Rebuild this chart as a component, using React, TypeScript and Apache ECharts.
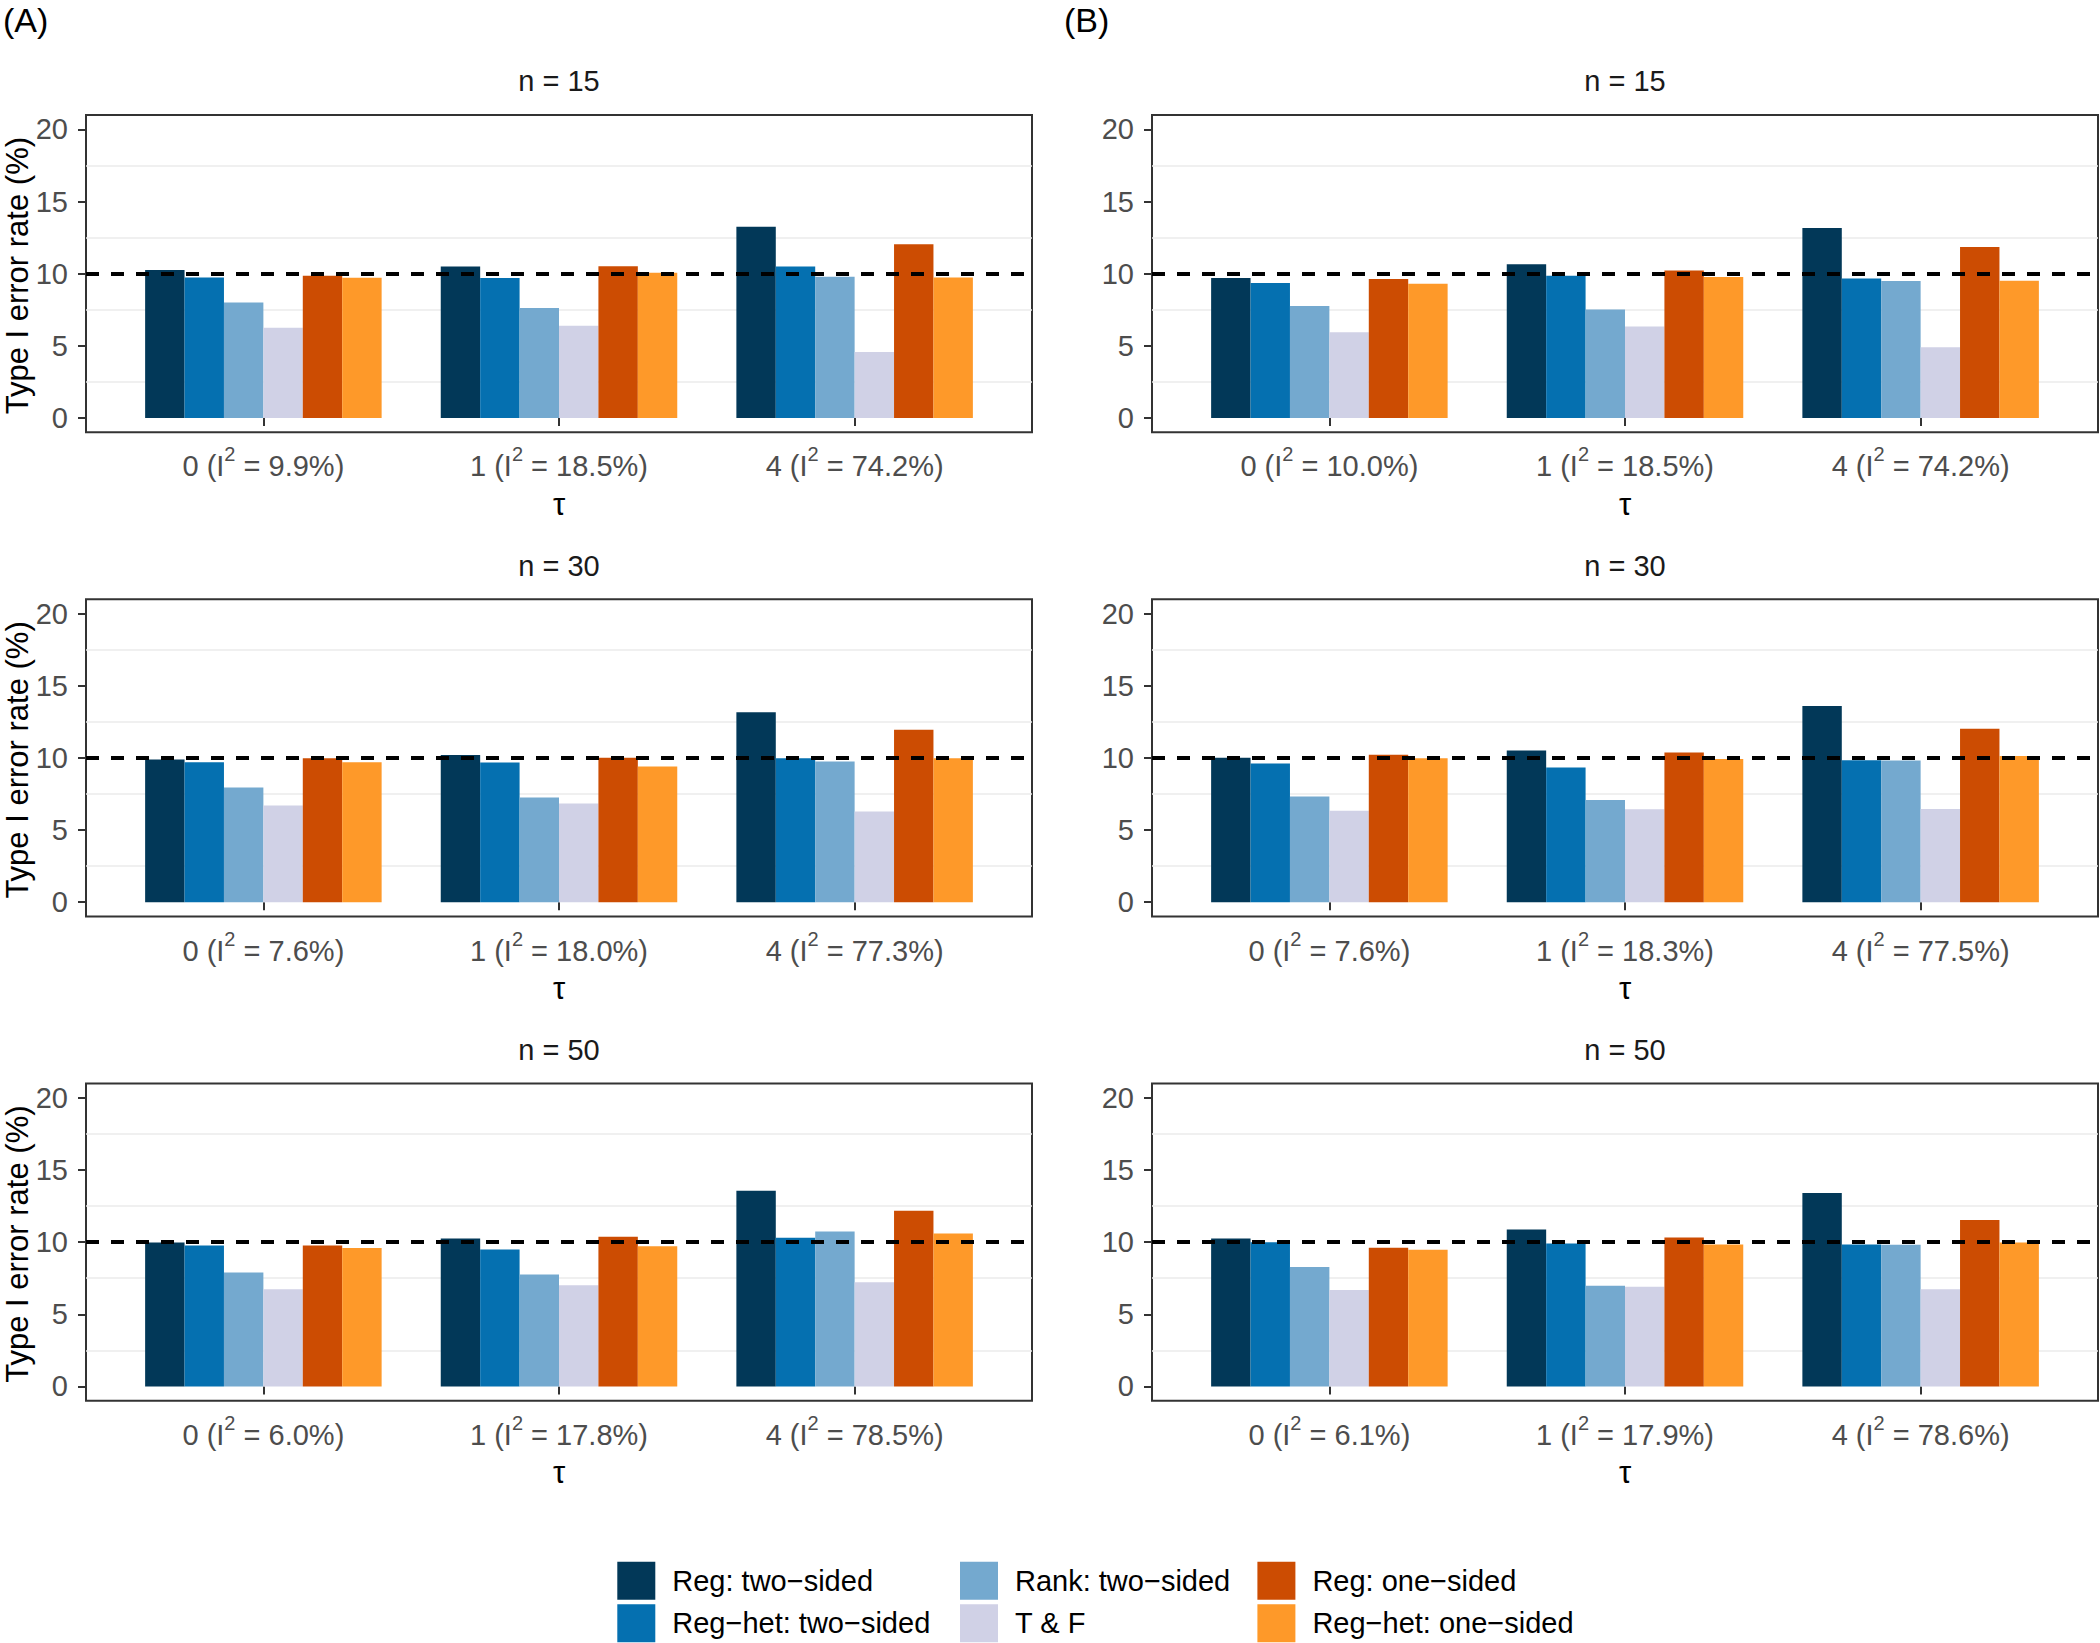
import React, { useEffect, useRef } from 'react';
import * as echarts from 'echarts';

// ---------- data ----------
const methods = [
  'Reg: two\u2212sided',
  'Reg\u2212het: two\u2212sided',
  'Rank: two\u2212sided',
  'T & F',
  'Reg: one\u2212sided',
  'Reg\u2212het: one\u2212sided',
];
const methodColors = ['#023858', '#0570B0', '#74A9CF', '#D0D1E6', '#CC4C02', '#FE9929'];

const sampleSizeTitles = ['n = 15', 'n = 30', 'n = 50'];
const tauValues = ['0', '1', '4'];

const i2A15 = ['9.9%', '18.5%', '74.2%'];
const i2A30 = ['7.6%', '18.0%', '77.3%'];
const i2A50 = ['6.0%', '17.8%', '78.5%'];
const i2B15 = ['10.0%', '18.5%', '74.2%'];
const i2B30 = ['7.6%', '18.3%', '77.5%'];
const i2B50 = ['6.1%', '17.9%', '78.6%'];

// rows: methods (same order as `methods`), columns: tau = 0, 1, 4
const rateA15 = [
  [10.25, 10.49, 13.26],
  [9.73, 9.7, 10.49],
  [8.0, 7.62, 9.79],
  [6.25, 6.39, 4.57],
  [9.86, 10.51, 12.03],
  [9.71, 10.07, 9.74],
];
const rateA30 = [
  [9.89, 10.21, 13.17],
  [9.7, 9.68, 9.98],
  [7.95, 7.26, 9.75],
  [6.71, 6.85, 6.28],
  [9.98, 10.02, 11.95],
  [9.7, 9.4, 9.98],
];
const rateA50 = [
  [9.98, 10.25, 13.56],
  [9.77, 9.49, 10.3],
  [7.89, 7.75, 10.74],
  [6.74, 7.01, 7.22],
  [9.77, 10.37, 12.18],
  [9.59, 9.72, 10.6],
];
const rateB15 = [
  [9.7, 10.65, 13.17],
  [9.35, 9.86, 9.67],
  [7.76, 7.51, 9.49],
  [5.94, 6.34, 4.9],
  [9.63, 10.21, 11.84],
  [9.3, 9.77, 9.51],
];
const rateB30 = [
  [10.02, 10.51, 13.61],
  [9.61, 9.33, 9.84],
  [7.33, 7.08, 9.82],
  [6.34, 6.44, 6.46],
  [10.23, 10.37, 12.02],
  [9.98, 9.93, 10.14],
];
const rateB50 = [
  [10.25, 10.87, 13.4],
  [10.0, 9.91, 9.84],
  [8.28, 6.97, 9.82],
  [6.69, 6.9, 6.74],
  [9.61, 10.32, 11.54],
  [9.47, 9.84, 9.98],
];

const yMin = 0;
const yMax = 20;
const yStep = 5;
const nominalLevel = 10;
const minorGridValues = [2.5, 7.5, 12.5, 17.5];
const panelLetters = ['(A)', '(B)'];
const yTitle = 'Type I error rate (%)';
const xTitle = '\u03C4';

// ---------- layout ----------
const FONT = '"Liberation Sans", Arial, Helvetica, sans-serif';
const colLeft = [86, 1152];
const boxW = 946;
const rowTop = [115, 599.3, 1083.5];
const boxH = 317.3;
const unitX = boxW / 3.2;
const padX = 0.1 * unitX;
const unitY = boxH / 22;

const panels = [
  { col: 0, row: 0, i2: i2A15, rates: rateA15 },
  { col: 0, row: 1, i2: i2A30, rates: rateA30 },
  { col: 0, row: 2, i2: i2A50, rates: rateA50 },
  { col: 1, row: 0, i2: i2B15, rates: rateB15 },
  { col: 1, row: 1, i2: i2B30, rates: rateB30 },
  { col: 1, row: 2, i2: i2B50, rates: rateB50 },
];

function tauLabelFormatter(value: string) {
  const parts = value.split('\u00B2');
  if (parts.length < 2) return `{a|${value}}`;
  return `{a|${parts[0]}}{s|2}{a|${parts[1]}}`;
}

function buildOption() {
  const grid: any[] = [];
  const xAxis: any[] = [];
  const yAxis: any[] = [];
  const series: any[] = [];
  const graphic: any[] = [];
  const tickLine = { color: '#333333', width: 2 };

  panels.forEach((p, idx) => {
    const L = colLeft[p.col];
    const T = rowTop[p.row];
    const bi = idx * 2;
    const di = idx * 2 + 1;

    // panel box grid
    grid.push({
      left: L, top: T, width: boxW, height: boxH,
      show: true, backgroundColor: '#ffffff', borderColor: '#333333', borderWidth: 2,
    });
    // data grid (bars)
    grid.push({
      left: L + padX, top: T + unitY, width: 3 * unitX, height: (yMax - yMin) * unitY,
    });

    xAxis.push({ gridIndex: bi, type: 'value', min: 0.4, max: 3.6, show: false });
    xAxis.push({
      gridIndex: di,
      type: 'category',
      data: tauValues.map((t, k) => `${t} (I\u00B2 = ${p.i2[k]})`),
      offset: unitY,
      axisLine: { show: false },
      axisTick: { show: true, alignWithLabel: true, length: 8, lineStyle: tickLine },
      axisLabel: {
        interval: 0,
        margin: 12,
        formatter: tauLabelFormatter,
        rich: {
          a: { color: '#4D4D4D', fontSize: 29, fontFamily: FONT, lineHeight: 44 },
          s: { color: '#4D4D4D', fontSize: 20, fontFamily: FONT, lineHeight: 20, verticalAlign: 'top' },
        },
      },
      splitLine: { show: false },
    });

    yAxis.push({ gridIndex: bi, type: 'value', min: -1, max: 21, show: false });
    yAxis.push({
      gridIndex: di,
      type: 'value',
      min: yMin,
      max: yMax,
      interval: yStep,
      offset: padX,
      axisLine: { show: false },
      axisTick: { show: true, length: 8, lineStyle: tickLine },
      axisLabel: { color: '#4D4D4D', fontSize: 29, fontFamily: FONT, margin: 18 },
      splitLine: { show: false },
    });

    // minor grid lines
    series.push({
      type: 'line', xAxisIndex: bi, yAxisIndex: bi, data: [], silent: true, z: 1,
      markLine: {
        silent: true, z: 1, symbol: ['none', 'none'], label: { show: false },
        lineStyle: { color: '#EBEBEB', width: 1.6, type: 'solid' },
        data: minorGridValues.map((v) => ({ yAxis: v })),
      },
    });

    // bars
    methods.forEach((m, mi) => {
      series.push({
        type: 'bar',
        name: m,
        xAxisIndex: di,
        yAxisIndex: di,
        data: p.rates[mi],
        barCategoryGap: '20%',
        barGap: '0%',
        itemStyle: { color: methodColors[mi] },
        z: 2,
      });
    });

    // nominal level dashed line
    series.push({
      type: 'line', xAxisIndex: bi, yAxisIndex: bi, data: [], silent: true, z: 6,
      markLine: {
        silent: true, z: 6, symbol: ['none', 'none'], label: { show: false },
        lineStyle: { color: '#000000', width: 4, type: [13, 12] },
        data: [{ yAxis: nominalLevel }],
      },
    });

    // strip title
    graphic.push({
      type: 'text', x: L + boxW / 2, y: T - 33.7,
      style: { text: sampleSizeTitles[p.row], fill: '#1A1A1A', fontSize: 29, fontFamily: FONT, align: 'center', verticalAlign: 'middle' },
    });
    // x title
    graphic.push({
      type: 'text', x: L + boxW / 2, y: T + boxH + 72,
      style: { text: xTitle, fill: '#000000', fontSize: 31, fontFamily: FONT, align: 'center', verticalAlign: 'middle' },
    });
    // y title
    if (p.col === 0) {
      graphic.push({
        type: 'text', x: 17, y: T + boxH / 2 + 2, rotation: Math.PI / 2,
        style: { text: yTitle, fill: '#000000', fontSize: 31, fontFamily: FONT, align: 'center', verticalAlign: 'middle' },
      });
    }
  });

  graphic.push({
    type: 'text', x: 3, y: 20,
    style: { text: panelLetters[0], fill: '#000000', fontSize: 34, fontFamily: FONT, align: 'left', verticalAlign: 'middle' },
  });
  graphic.push({
    type: 'text', x: 1064, y: 20,
    style: { text: panelLetters[1], fill: '#000000', fontSize: 34, fontFamily: FONT, align: 'left', verticalAlign: 'middle' },
  });

  const legendLefts = [617.3, 960, 1257.4];
  const legend = legendLefts.map((left, c) => ({
    orient: 'vertical',
    left,
    top: 1561.7,
    padding: 0,
    itemWidth: 38,
    itemHeight: 38,
    itemGap: 4.6,
    icon: 'rect',
    selectedMode: false,
    data: methods.slice(c * 2, c * 2 + 2),
    textStyle: { fontSize: 29, color: '#000000', fontFamily: FONT, padding: [0, 0, 0, 12] },
  }));

  return {
    animation: false,
    backgroundColor: '#ffffff',
    grid,
    xAxis,
    yAxis,
    series,
    legend,
    graphic,
  };
}

export default function App() {
  const ref = useRef<HTMLDivElement>(null);
  useEffect(() => {
    document.body.style.margin = '0';
    const chart = echarts.init(ref.current as HTMLDivElement, null, { renderer: 'svg' });
    chart.setOption(buildOption() as any);
    return () => {
      chart.dispose();
    };
  }, []);
  return <div ref={ref} style={{ width: 2100, height: 1643, background: '#ffffff' }} />;
}
